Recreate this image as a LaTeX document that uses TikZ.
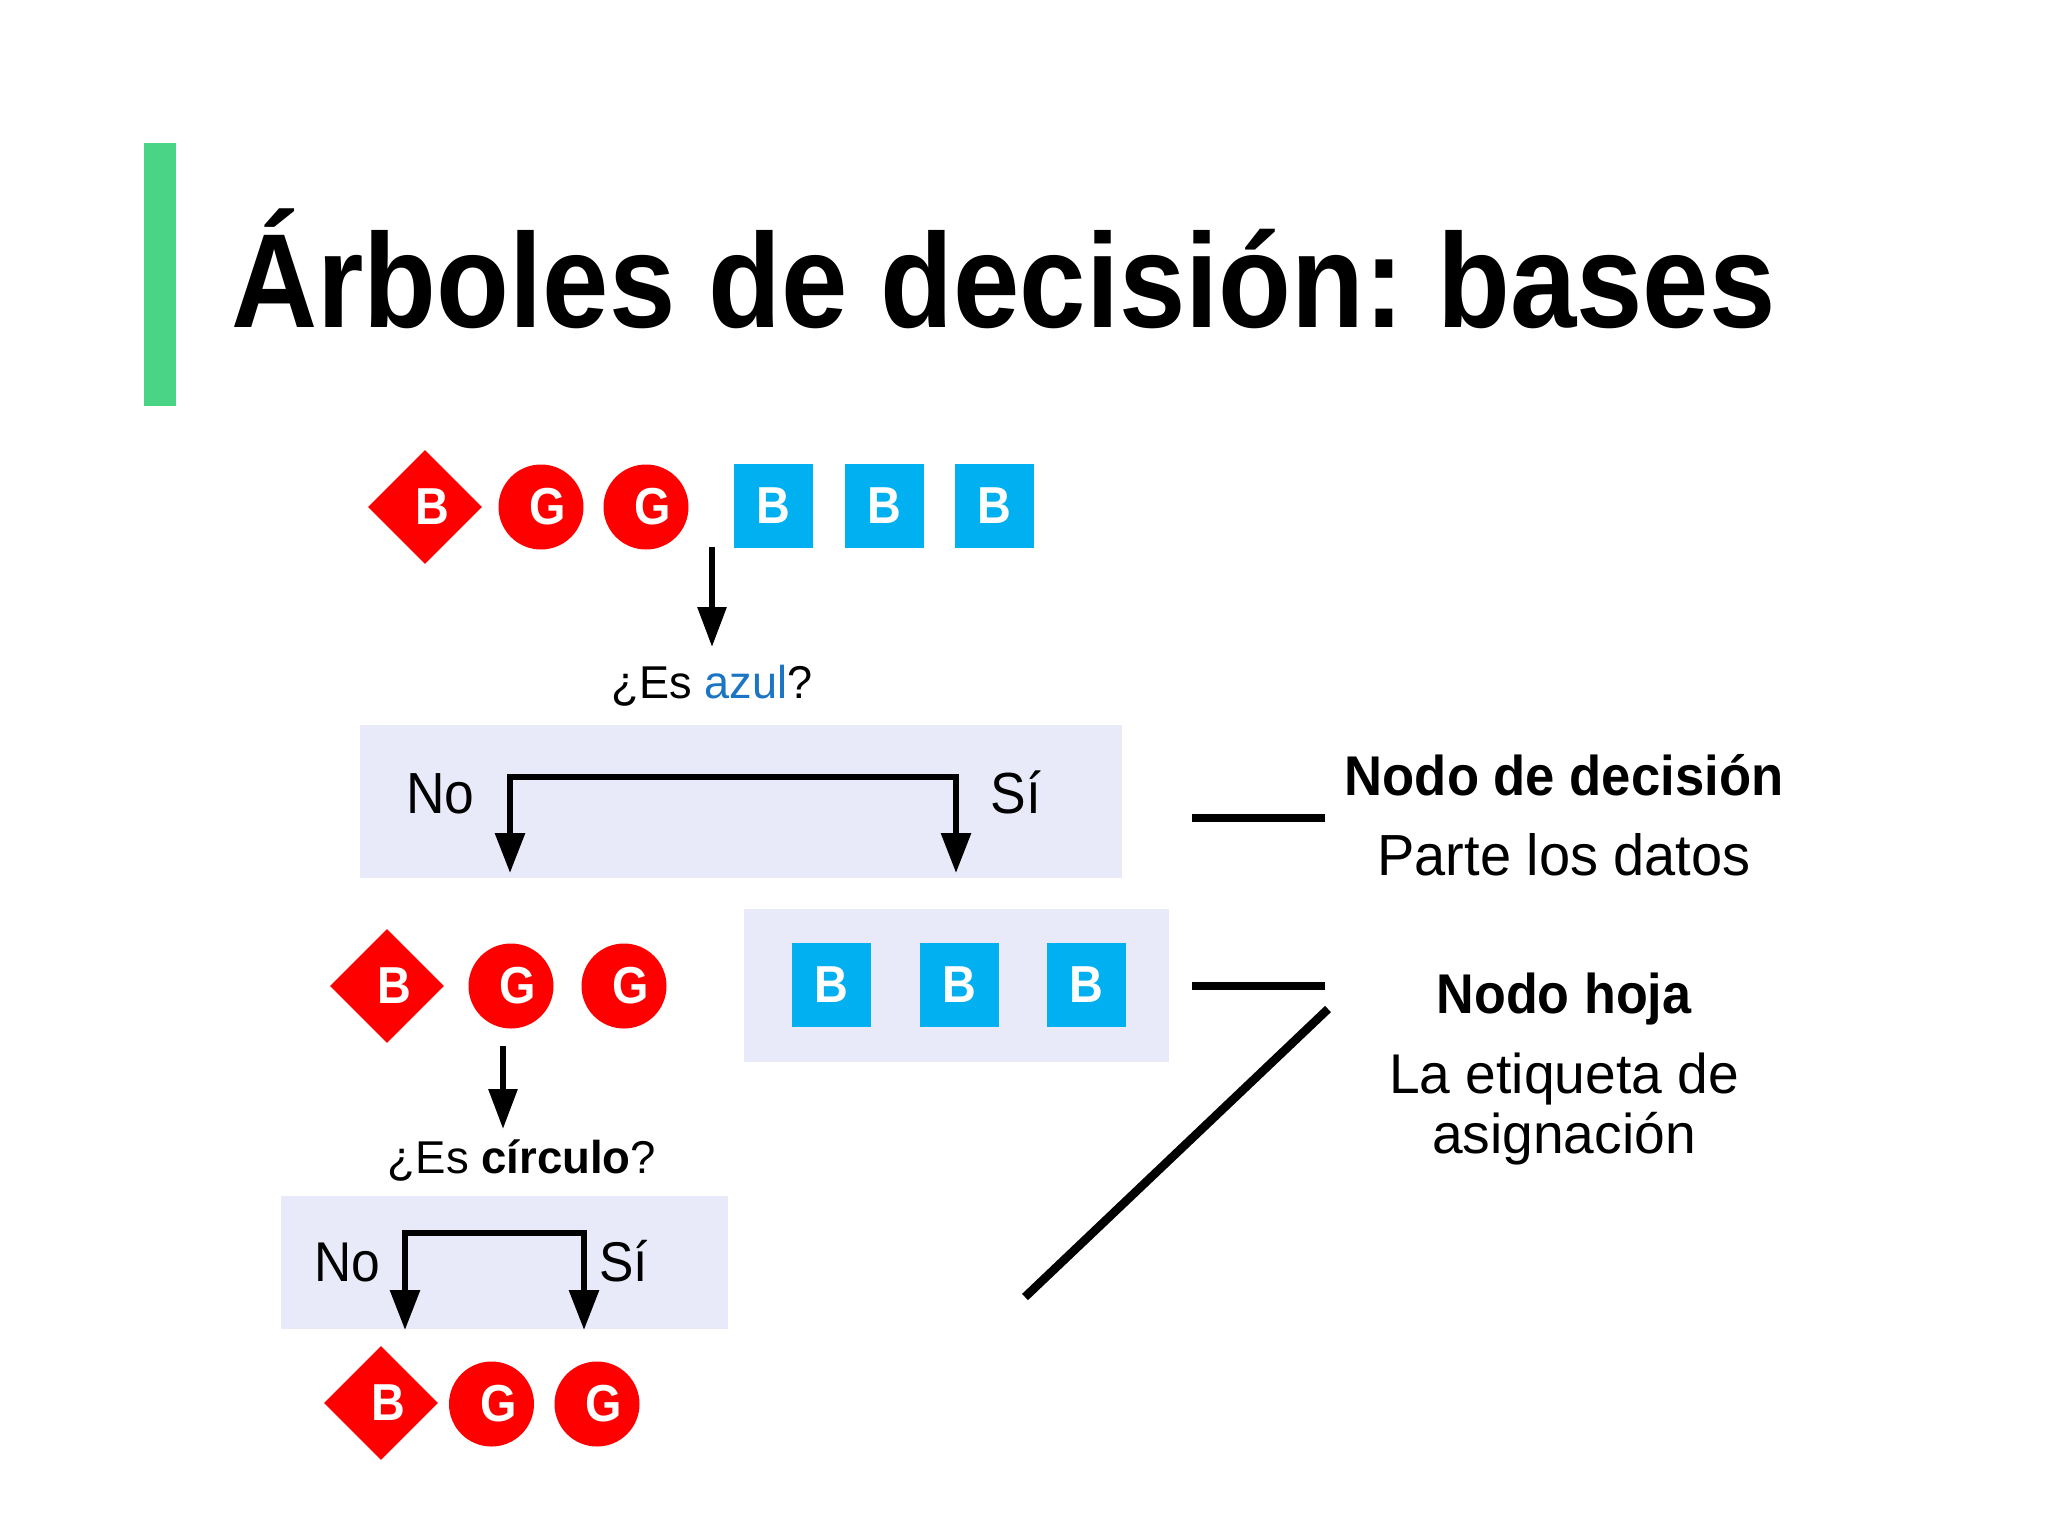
\documentclass[tikz,border=0pt]{standalone}
\usepackage{fontspec}
\setmainfont{Liberation Sans}
\usepackage{graphicx}
\usetikzlibrary{shapes.geometric,arrows.meta}
\frenchspacing
\definecolor{redzero}{HTML}{FF0000}
\definecolor{bluezero}{HTML}{00B0F0}
\definecolor{panelc}{HTML}{E8EAF9}
\definecolor{greenbar}{HTML}{4AD586}
\definecolor{azulc}{HTML}{1B75C4}
\newcommand{\fsz}[1]{\fontsize{#1pt}{#1pt}\selectfont}
\newcommand{\sxx}[2]{\scalebox{#1}[1]{#2}}
\newcommand{\rl}[1]{\hspace*{7pt}\sxx{0.9}{#1}}
\tikzset{
  dia/.style={shape=diamond, fill=redzero, minimum width=57pt, minimum height=57pt, inner sep=0pt, aspect=1, text=white, font=\bfseries\fsz{26}},
  circ/.style={circle, fill=redzero, minimum size=42.5pt, inner sep=0pt, text=white, font=\bfseries\fsz{26}},
  sqb/.style={rectangle, fill=bluezero, minimum width=39.5pt, minimum height=42pt, inner sep=0pt, text=white, font=\bfseries\fsz{26}},
  panelbox/.style={fill=panelc},
  arr/.style={line width=3pt, -{Triangle[length=20pt,width=14pt]}},
  brk/.style={line width=3pt, line join=miter, {Triangle[length=20pt,width=14.5pt]}-{Triangle[length=20pt,width=14.5pt]}},
  lead/.style={line width=4.3pt},
  lbl/.style={inner sep=0pt, anchor=base},
}
\begin{document}
\begin{tikzpicture}[x=0.5pt,y=-0.5pt]
\useasboundingbox (0,0) rectangle (2048,1536);
\fill[white] (0,0) rectangle (2048,1536);
% title
\fill[greenbar] (144,143) rectangle (176,406);
\node[lbl, anchor=base west] (title) at (231,327) {\fsz{67}\bfseries\sxx{0.89}{Árboles de decisión: bases}};
% panels
\fill[panelbox] (360,725) rectangle (1122,878);
\fill[panelbox] (744,909) rectangle (1169,1062);
\fill[panelbox] (281,1196) rectangle (728,1329);
% row 1
\node[dia] (r1d) at (425,507) {\rl{B}};
\node[circ] (r1g1) at (541,507) {\rl{G}};
\node[circ] (r1g2) at (646,507) {\rl{G}};
\node[sqb] (r1b1) at (773.5,506) {\sxx{0.9}{B}};
\node[sqb] (r1b2) at (884.5,506) {\sxx{0.9}{B}};
\node[sqb] (r1b3) at (994.5,506) {\sxx{0.9}{B}};
% arrow 1 and question
\coordinate (a1s) at (712,547);
\coordinate (a1e) at (712,647);
\draw[arr] (a1s) -- (a1e);
\node[lbl] (q1) at (712,698) {\fsz{23}\sxx{0.98}{¿Es \textcolor{azulc}{azul}?}};
% bracket 1
\coordinate (b1lt) at (510,777);
\coordinate (b1rt) at (956,777);
\coordinate (b1le) at (510,873);
\coordinate (b1re) at (956,873);
\draw[brk] (b1le) -- (b1lt) -- (b1rt) -- (b1re);
\node[lbl, anchor=base west] (no1) at (406,813) {\fsz{29}\sxx{0.92}{No}};
\node[lbl, anchor=base west] (si1) at (990,813) {\fsz{29}\sxx{0.92}{Sí}};
% row 2
\node[dia] (r2d) at (387,986) {\rl{B}};
\node[circ] (r2g1) at (511,986) {\rl{G}};
\node[circ] (r2g2) at (624,986) {\rl{G}};
\node[sqb] (r2b1) at (831,984.5) {\sxx{0.9}{B}};
\node[sqb] (r2b2) at (959,984.5) {\sxx{0.9}{B}};
\node[sqb] (r2b3) at (1086.5,984.5) {\sxx{0.9}{B}};
% arrow 2 and question
\coordinate (a2s) at (503,1046);
\coordinate (a2e) at (503,1129);
\draw[arr] (a2s) -- (a2e);
\node[lbl] (q2) at (522,1173) {\fsz{23}\sxx{0.99}{¿Es \textbf{círculo}?}};
% bracket 2
\coordinate (b2lt) at (405,1233);
\coordinate (b2rt) at (584,1233);
\coordinate (b2le) at (405,1330);
\coordinate (b2re) at (584,1330);
\draw[brk] (b2le) -- (b2lt) -- (b2rt) -- (b2re);
\node[lbl, anchor=base west] (no2) at (314,1281) {\fsz{28}\sxx{0.92}{No}};
\node[lbl, anchor=base west] (si2) at (599,1281) {\fsz{28}\sxx{0.92}{Sí}};
% row 3
\node[dia] (r3d) at (381,1403) {\rl{B}};
\node[circ] (r3g1) at (491.5,1404) {\rl{G}};
\node[circ] (r3g2) at (597,1404) {\rl{G}};
% right side
\coordinate (l1a) at (1192,818);
\coordinate (l1b) at (1325,818);
\coordinate (l2a) at (1192,986);
\coordinate (l2b) at (1325,986);
\coordinate (l3a) at (1328,1009);
\coordinate (l3b) at (1025,1297);
\draw[lead] (l1a) -- (l1b);
\draw[lead] (l2a) -- (l2b);
\draw[lead] (l3a) -- (l3b);
\node[lbl] (nd) at (1564,795) {\fsz{28}\bfseries\sxx{0.94}{Nodo de decisión}};
\node[lbl] (pd) at (1564,875) {\fsz{29}\sxx{0.965}{Parte los datos}};
\node[lbl] (nh) at (1564,1013) {\fsz{28}\bfseries\sxx{0.93}{Nodo hoja}};
\node[lbl] (le) at (1564,1093) {\fsz{28}\sxx{0.985}{La etiqueta de}};
\node[lbl] (as) at (1564,1153) {\fsz{28}\sxx{0.985}{asignación}};
\end{tikzpicture}
\end{document}
